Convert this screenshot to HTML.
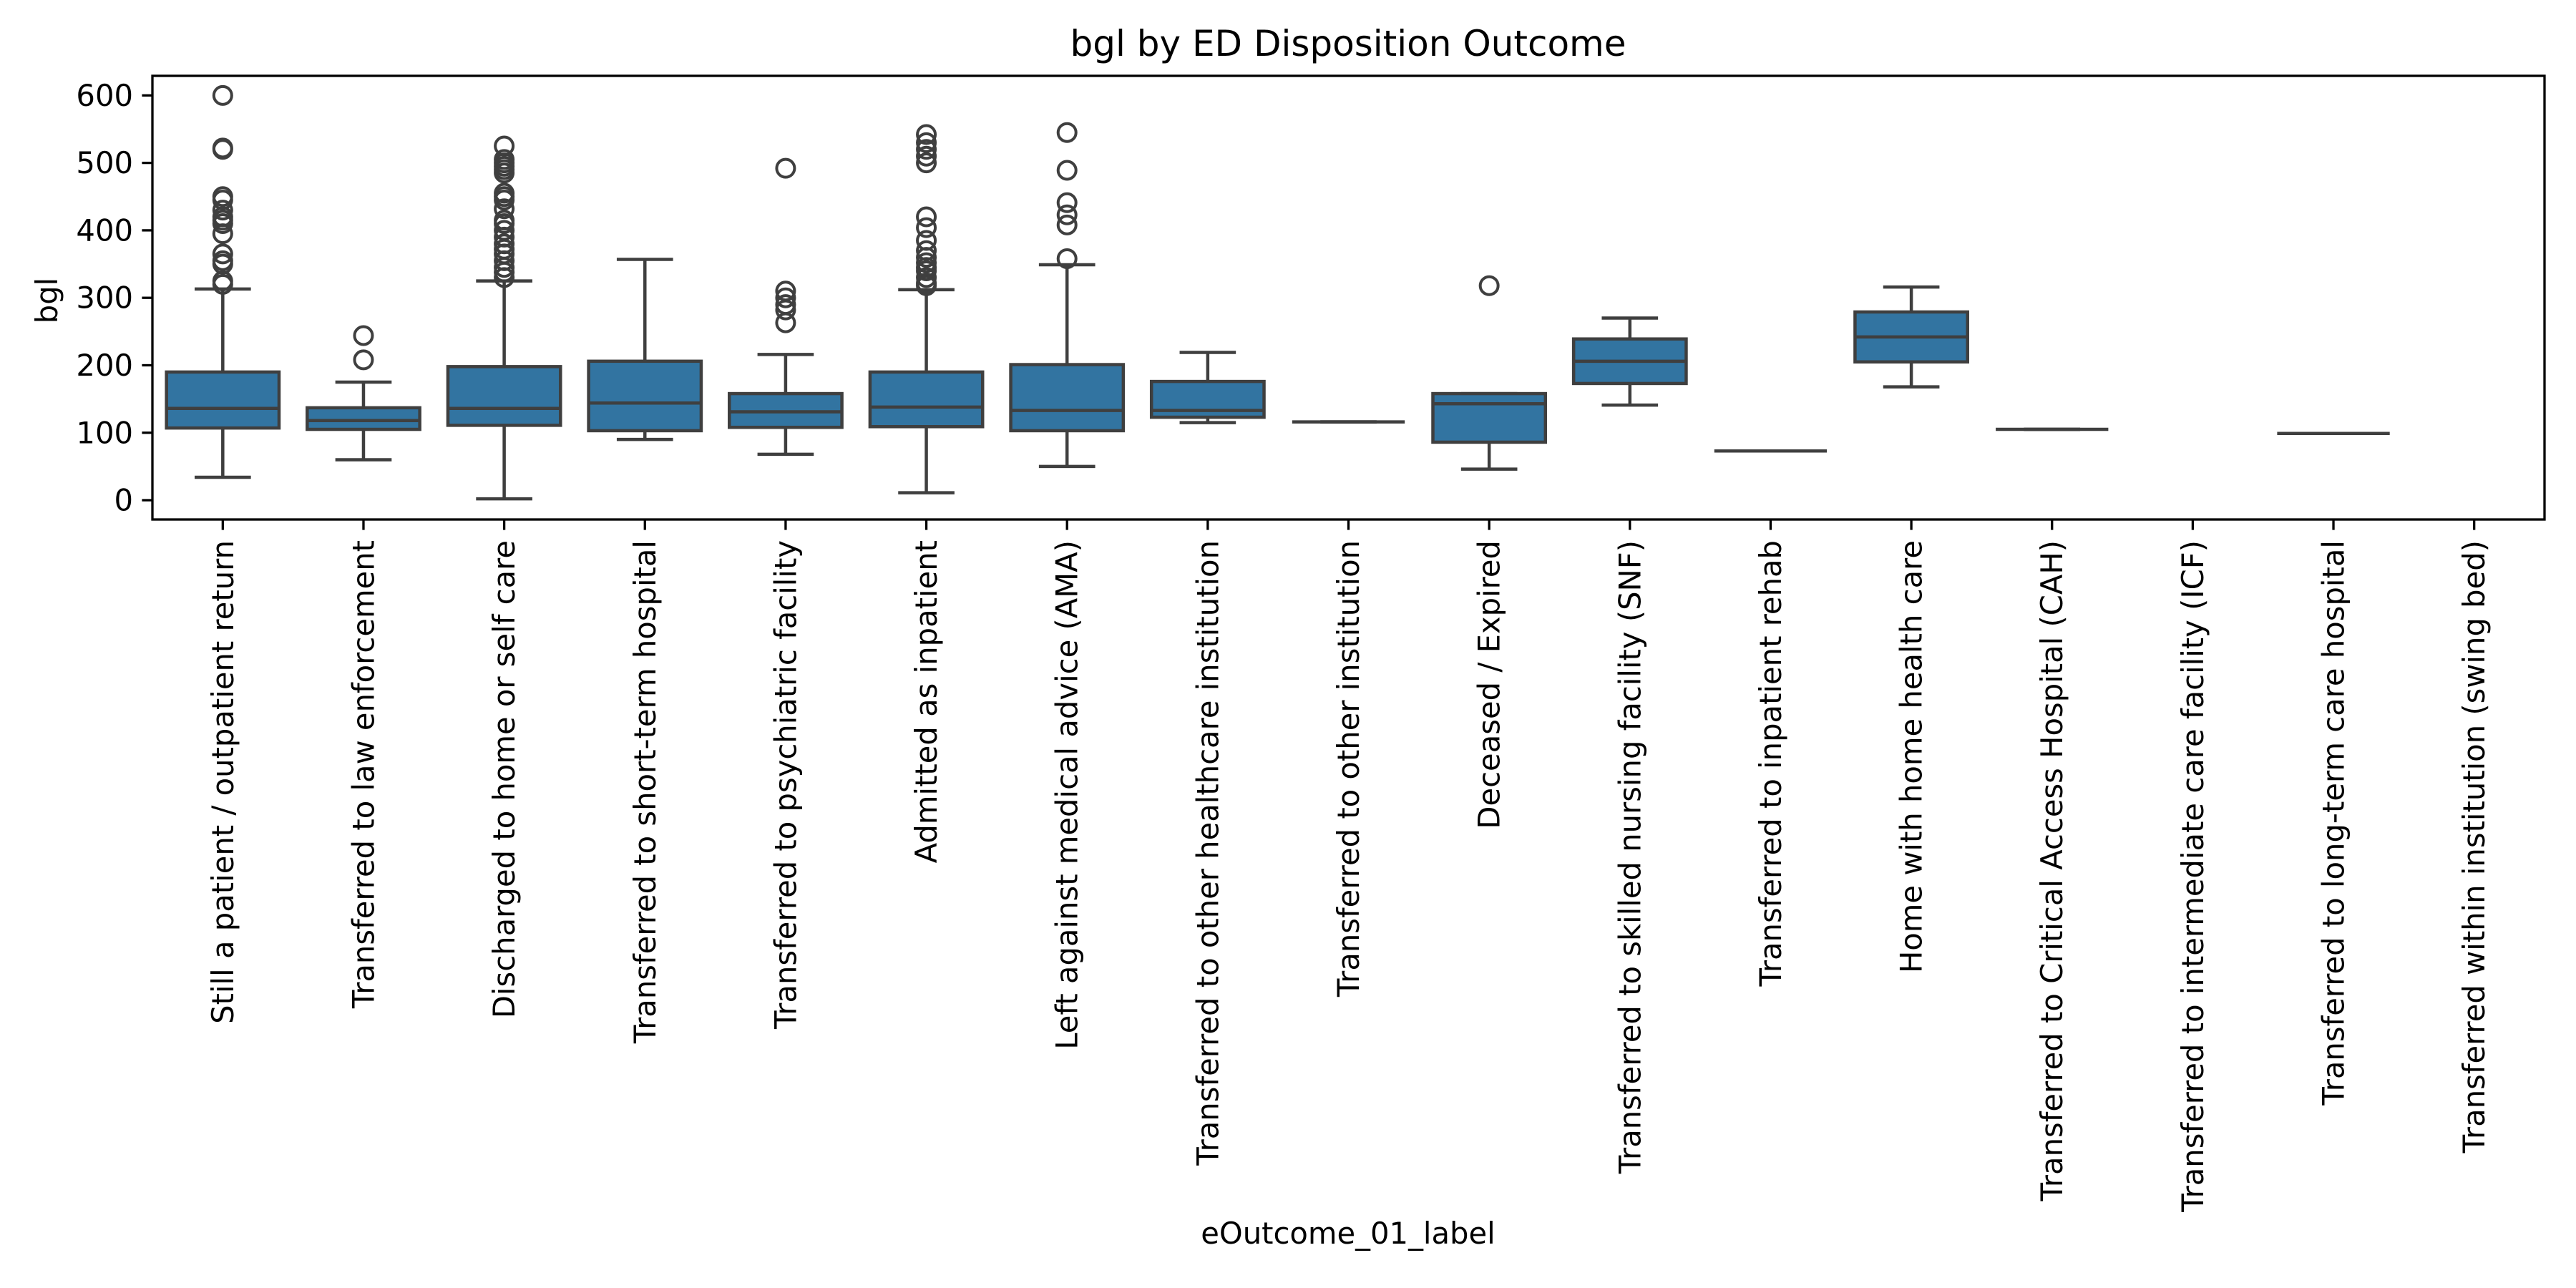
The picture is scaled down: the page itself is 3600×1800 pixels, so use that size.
<!DOCTYPE html>
<html><head><meta charset="utf-8"><style>
html,body{margin:0;padding:0;background:#fff;}
svg{display:block;font-family:"DejaVu Sans","Liberation Sans",sans-serif;}
</style></head><body>
<svg id="chart" width="3600" height="1800" viewBox="0 0 3600 1800" xmlns="http://www.w3.org/2000/svg">
<rect width="3600" height="1800" fill="#fff"/>
<text x="1884" y="78" font-size="50" text-anchor="middle">bgl by ED Disposition Outcome</text>
<text x="1884" y="1738" font-size="41.7" text-anchor="middle">eOutcome_01_label</text>
<text transform="translate(80,420) rotate(-90)" font-size="41.7" text-anchor="middle">bgl</text>
<g id="plot"></g>
</svg>
<script>
const categories = ["Still a patient / outpatient return","Transferred to law enforcement","Discharged to home or self care","Transferred to short-term hospital","Transferred to psychiatric facility","Admitted as inpatient","Left against medical advice (AMA)","Transferred to other healthcare institution","Transferred to other institution","Deceased / Expired","Transferred to skilled nursing facility (SNF)","Transferred to inpatient rehab","Home with home health care","Transferred to Critical Access Hospital (CAH)","Transferred to intermediate care facility (ICF)","Transferred to long-term care hospital","Transferred within institution (swing bed)"];
const whiskerLow = [34,60,2,90,68,11,50,115,116,46,141,73,168,105,null,99,null];
const q1Values = [107,105,111,103,108,109,103,123,116,86,173,73,205,105,null,99,null];
const medians = [136,118,136,144,131,138,133,133,116,143,206,73,242,105,null,99,null];
const q3Values = [190,137,198,206,158,190,201,176,116,158,239,73,279,105,null,99,null];
const whiskerHigh = [313,175,325,357,216,312,349,219,116,158,270,73,316,105,null,99,null];
const outliers = [
 [600,522,520,450,445,430,420,415,410,395,365,355,350,325,320],
 [244,208],
 [525,505,500,495,490,485,455,450,445,432,415,410,400,390,380,372,365,355,345,338,330],
 [],
 [492,310,300,290,282,263],
 [542,530,520,510,500,420,404,385,370,360,352,345,340,330,322,318],
 [545,489,441,423,408,358],
 [],[],[318],[],[],[],[],[],[],[]
];
const yTicks = [0,100,200,300,400,500,600];

const L=213,R=3556,T=106,B=726;
const yMin=-28.6, yMax=629;
const y = v => B - (v - yMin)/(yMax - yMin)*(B - T);
const step=(R-L)/categories.length;
const x = i => L + step*(i+0.5);
const NS="http://www.w3.org/2000/svg";
const plot=document.getElementById('plot');
function mk(tag,attrs,parent){const e=document.createElementNS(NS,tag);for(const k in attrs)e.setAttribute(k,attrs[k]);(parent||plot).appendChild(e);return e;}
const lc="#3f3f3f", lw=4.5, bw=step*0.8;

categories.forEach((c,i)=>{
  const g=mk('g',{});
  
  
  const cx=x(i);
  if(medians[i]!==null){
    const wl=mk('line',{x1:cx,x2:cx,y1:y(whiskerLow[i]),y2:y(q1Values[i]),stroke:lc,'stroke-width':lw},g);
    
    
    const wh=mk('line',{x1:cx,x2:cx,y1:y(q3Values[i]),y2:y(whiskerHigh[i]),stroke:lc,'stroke-width':lw},g);
    
    
    const cl=mk('line',{x1:cx-bw/4,x2:cx+bw/4,y1:y(whiskerLow[i]),y2:y(whiskerLow[i]),stroke:lc,'stroke-width':lw},g);
    
    
    const ch=mk('line',{x1:cx-bw/4,x2:cx+bw/4,y1:y(whiskerHigh[i]),y2:y(whiskerHigh[i]),stroke:lc,'stroke-width':lw},g);
    
    
    const r=mk('rect',{x:cx-bw/2,y:y(q3Values[i]),width:bw,height:Math.max(0,y(q1Values[i])-y(q3Values[i])),fill:'#3274a1',stroke:lc,'stroke-width':lw},g);
    
    
    const m=mk('line',{x1:cx-bw/2,x2:cx+bw/2,y1:y(medians[i]),y2:y(medians[i]),stroke:lc,'stroke-width':lw},g);
    
    
  }
  outliers[i].forEach(v=>{
    const o=mk('circle',{cx:cx,cy:y(v),r:12.5,fill:'none',stroke:lc,'stroke-width':4},g);
    
    
  });
  const t=mk('line',{x1:cx,x2:cx,y1:B,y2:B+14.6,stroke:'#000','stroke-width':3.3});
  
  
  const lab=mk('text',{transform:`translate(${cx},${B+29}) rotate(-90)`,'text-anchor':'end','dominant-baseline':'central','font-size':41.7,fill:'#000'});
  lab.textContent=c;
  
  
});
yTicks.forEach(v=>{
  const t=mk('line',{x1:L-14.6,x2:L,y1:y(v),y2:y(v),stroke:'#000','stroke-width':3.3});
  
  
  const lab=mk('text',{x:L-27,y:y(v),'text-anchor':'end','dominant-baseline':'central','font-size':41.7,fill:'#000'});
  lab.textContent=v;
  
  
});
const frame=mk('rect',{x:L,y:T,width:R-L,height:B-T,fill:'none',stroke:'#000','stroke-width':3.3});


</script>
</body></html>
